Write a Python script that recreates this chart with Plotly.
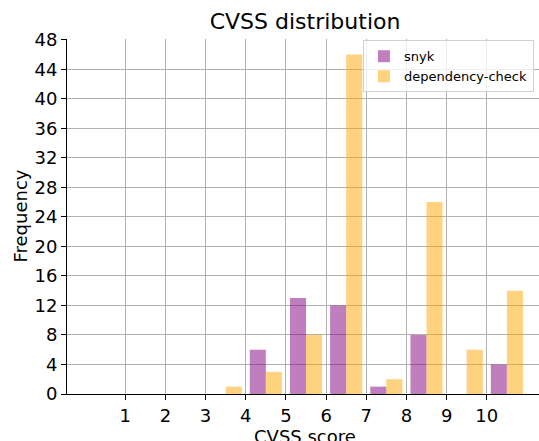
import plotly.graph_objects as go

bins = [0, 1, 2, 3, 4, 5, 6, 7, 8, 9, 10]
snyk = [0, 0, 0, 0, 6, 13, 12, 1, 8, 0, 4]
dep_check = [0, 0, 0, 1, 3, 8, 46, 2, 26, 6, 14]
xticks = [1, 2, 3, 4, 5, 6, 7, 8, 9, 10]
yticks = list(range(0, 49, 4))

fig = go.Figure()
fig.add_trace(go.Bar(x=bins, y=snyk, width=0.4, offset=0.1, name="snyk",
                     marker=dict(color="rgba(128,0,128,0.5)", line=dict(width=0))))
fig.add_trace(go.Bar(x=bins, y=dep_check, width=0.4, offset=0.5, name="dependency-check",
                     marker=dict(color="rgba(255,165,0,0.5)", line=dict(width=0))))

fig.update_layout(
    width=539, height=441,
    margin=dict(l=67, r=0, t=39, b=47, autoexpand=False),
    paper_bgcolor="white", plot_bgcolor="white",
    barmode="overlay",
    font=dict(family="DejaVu Sans", color="black", size=18),
    title=dict(text="CVSS distribution", x=0.566, xanchor="center", y=0.952, yanchor="middle",
               font=dict(size=22)),
    xaxis=dict(range=[-0.45, 11.30], tickvals=xticks, ticks="outside", ticklen=5,
               tickcolor="black", showline=True, linecolor="black", linewidth=1,
               showgrid=True, gridcolor="#b0b0b0", gridwidth=1, zeroline=False,
               automargin=False, tickfont=dict(size=18)),
    yaxis=dict(range=[0, 48.1], tickvals=yticks, ticks="outside", ticklen=5,
               tickcolor="black", showline=True, linecolor="black", linewidth=1,
               showgrid=True, gridcolor="#b0b0b0", gridwidth=1, zeroline=False,
               automargin=False, tickfont=dict(size=18)),
    legend=dict(x=0.627, y=0.996, xanchor="left", yanchor="top",
                bordercolor="#d0d0d0", borderwidth=1, bgcolor="rgba(255,255,255,0.8)",
                font=dict(size=13), traceorder="normal"),
    annotations=[
        dict(text="CVSS score", xref="paper", yref="paper", x=0.504, y=0,
             xanchor="center", yanchor="middle", yshift=-42, showarrow=False,
             font=dict(size=18)),
        dict(text="Frequency", xref="paper", yref="paper", x=0, y=0.5,
             xanchor="center", yanchor="middle", xshift=-47, textangle=-90,
             showarrow=False, font=dict(size=18)),
    ],
)

fig.write_html("out.html", config={"displayModeBar": False},
               post_script="document.body.style.margin='0';document.body.style.overflow='hidden';")
